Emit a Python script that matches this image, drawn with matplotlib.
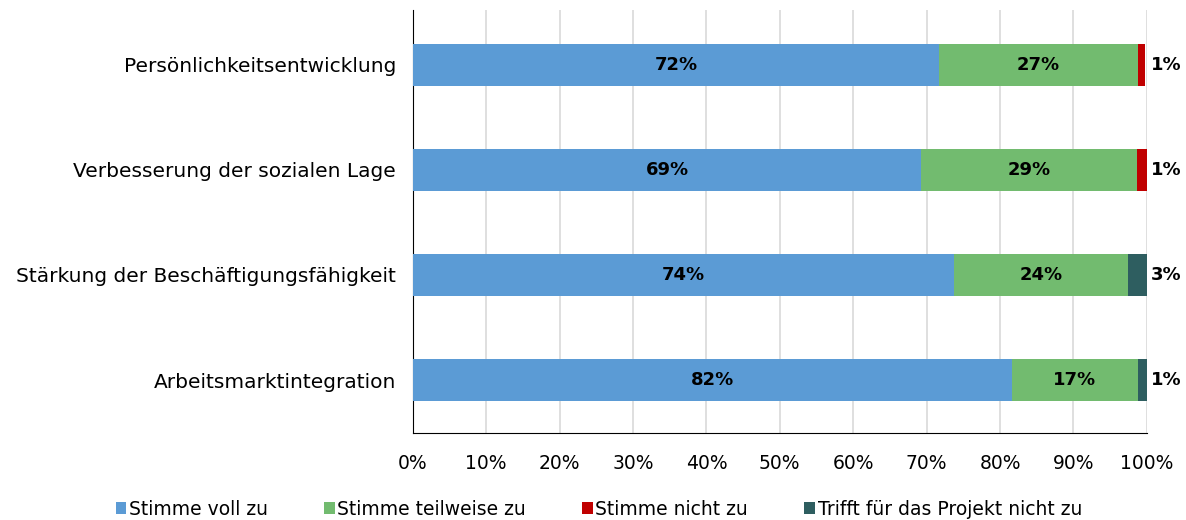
import numpy as np
import matplotlib.pyplot as plt

categories = ['Persönlichkeitsentwicklung', 'Verbesserung der sozialen Lage',
              'Stärkung der Beschäftigungsfähigkeit', 'Arbeitsmarktintegration']
voll = [71.7, 69.3, 73.7, 81.6]
teilweise = [27.1, 29.4, 23.7, 17.2]
nicht = [0.9, 1.3, 0.0, 0.0]
trifft_nicht = [0.0, 0.0, 2.6, 1.2]
series_names = ['Stimme voll zu', 'Stimme teilweise zu', 'Stimme nicht zu',
                'Trifft für das Projekt nicht zu']
colors = ['#5B9BD5', '#72BB6F', '#C00000', '#2E5E60']

plt.rcParams['font.family'] = ['DejaVu Sans']

fig = plt.figure(figsize=(11.86, 5.2), dpi=100)
ax = fig.add_axes([0.348, 0.167, 0.619, 0.814])

y = np.arange(len(categories))[::-1]
data = [voll, teilweise, nicht, trifft_nicht]
left = np.zeros(len(categories))
for vals, name, c in zip(data, series_names, colors):
    ax.barh(y, vals, left=left, height=0.4, color=c, label=name, zorder=3)
    left += np.array(vals)

# labels inside for first two series, last one outside the bar
for i in range(len(categories)):
    ax.text(voll[i] / 2, y[i], f'{round(voll[i])}%', ha='center', va='center',
            fontsize=13, fontweight='bold', color='black', zorder=4)
    ax.text(voll[i] + teilweise[i] / 2, y[i], f'{round(teilweise[i])}%',
            ha='center', va='center', fontsize=13, fontweight='bold', zorder=4)
    last = nicht[i] if nicht[i] > 0 else trifft_nicht[i]
    ax.text(100.6, y[i], f'{round(last)}%', ha='left', va='center',
            fontsize=13, fontweight='bold', zorder=4)

ax.set_xlim(0, 100)
ax.set_ylim(-0.505, 3.52)
ax.set_xticks(np.arange(0, 101, 10))
ax.set_xticklabels([f'{v}%' for v in range(0, 101, 10)], fontsize=13.5)
ax.set_yticks(y)
ax.set_yticklabels(categories, fontsize=14.5)
ax.tick_params(axis='x', length=0, pad=15)
ax.tick_params(axis='y', length=0, pad=12)
ax.grid(axis='x', color='#D9D9D9', linewidth=1.2, zorder=0)
for s in ['top', 'right']:
    ax.spines[s].set_visible(False)
ax.spines['left'].set_color('black')
ax.spines['bottom'].set_color('black')

fig.legend(loc='lower center', ncol=4, bbox_to_anchor=(0.505, -0.03), frameon=False,
           fontsize=13.5, handlelength=0.55, handleheight=0.55, handletextpad=0.15,
           columnspacing=3.0)

fig.savefig('out.png', dpi=100)
